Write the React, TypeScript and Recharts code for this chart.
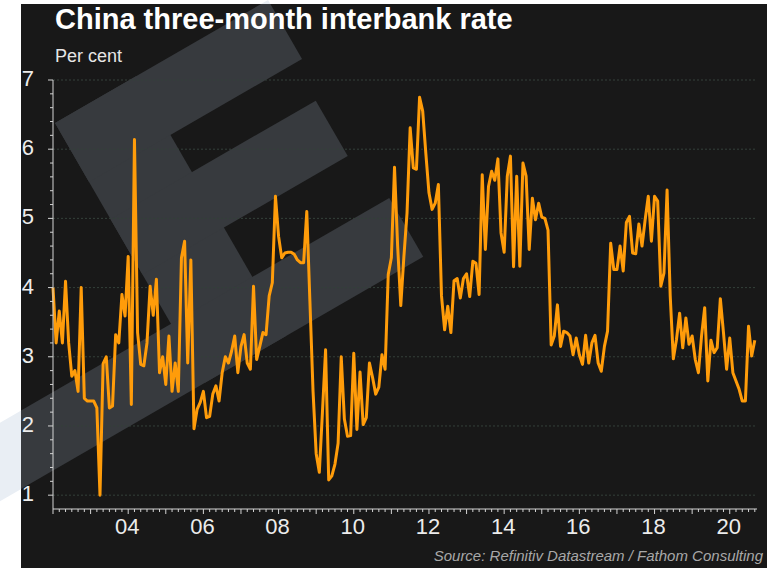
import { LineChart, Line, XAxis, YAxis, ReferenceLine } from 'recharts';

// monthly 3m interbank rate, Jan 2002 .. Sep 2020 (per cent)
const rate2002 = [4.0, 3.2, 3.66, 3.2, 4.09, 3.2, 2.72, 2.8, 2.5, 4.0, 2.4, 2.36];
const rate2003 = [2.36, 2.36, 2.26, 1.0, 2.9, 3.0, 2.26, 2.29, 3.32, 3.2, 3.9, 3.59];
const rate2004 = [4.45, 2.31, 6.14, 3.35, 2.89, 2.87, 3.2, 4.02, 3.6, 4.12, 2.77, 3.0];
const rate2005 = [2.6, 3.3, 2.5, 2.91, 2.5, 4.43, 4.67, 2.91, 4.4, 1.96, 2.24, 2.34];
const rate2006 = [2.5, 2.12, 2.14, 2.46, 2.58, 2.36, 2.77, 3.0, 2.91, 3.08, 3.3, 2.77];
const rate2007 = [3.15, 3.32, 2.91, 2.82, 4.02, 2.96, 3.15, 3.35, 3.32, 3.88, 4.07, 5.32];
const rate2008 = [4.74, 4.43, 4.5, 4.51, 4.51, 4.48, 4.4, 4.36, 4.36, 5.1, 3.8, 2.5];
const rate2009 = [1.6, 1.33, 2.2, 3.1, 1.22, 1.28, 1.45, 1.75, 3.0, 2.1, 1.85, 1.86];
const rate2010 = [3.05, 1.95, 2.78, 2.02, 2.12, 2.91, 2.7, 2.46, 2.56, 3.03, 2.82, 4.19];
const rate2011 = [4.43, 5.74, 4.6, 3.74, 4.45, 5.08, 6.31, 5.73, 5.71, 6.75, 6.55, 5.94];
const rate2012 = [5.37, 5.13, 5.22, 5.49, 3.88, 3.39, 3.73, 3.35, 4.1, 4.13, 3.85, 4.13];
const rate2013 = [4.2, 3.87, 4.38, 4.35, 3.9, 5.63, 4.55, 5.46, 5.68, 5.55, 5.86, 4.79];
const rate2014 = [4.51, 5.61, 5.9, 4.3, 5.61, 4.31, 5.8, 5.61, 4.55, 5.29, 4.98, 5.22];
const rate2015 = [5.02, 5.0, 4.83, 3.17, 3.3, 3.75, 3.15, 3.37, 3.35, 3.3, 3.03, 3.27];
const rate2016 = [3.03, 2.89, 3.31, 2.91, 3.2, 3.31, 2.91, 2.79, 3.15, 3.37, 4.64, 4.26];
const rate2017 = [4.26, 4.6, 4.24, 4.94, 5.03, 4.5, 4.49, 4.92, 4.6, 4.98, 5.32, 4.67];
const rate2018 = [5.32, 5.25, 4.02, 4.21, 5.41, 3.88, 2.97, 3.25, 3.63, 3.13, 3.56, 3.18];
const rate2019 = [3.3, 2.96, 2.77, 3.3, 3.71, 2.65, 3.24, 3.06, 3.13, 3.84, 3.35, 2.82];
const rate2020 = [3.27, 2.77, 2.65, 2.53, 2.36, 2.36, 3.44, 3.01, 3.24];

const yearlyRates = [
  rate2002, rate2003, rate2004, rate2005, rate2006, rate2007, rate2008, rate2009, rate2010,
  rate2011, rate2012, rate2013, rate2014, rate2015, rate2016, rate2017, rate2018, rate2019, rate2020,
];

const startYear = 2002;
const labelYears = [2004, 2006, 2008, 2010, 2012, 2014, 2016, 2018, 2020];
const gridValues = [1, 2, 3, 4, 5, 6, 7];

const data = yearlyRates.flat().map((value, month) => ({ month, value }));

// tick marks every 2 months along x, every 0.2 along y
const xTicks = Array.from({ length: 113 }, (_, i) => i * 2);
const yTicks = Array.from({ length: 31 }, (_, i) => Math.round((1 + i * 0.2) * 10) / 10);

const AXIS = '#d4d4d4';
const FONT = '"Liberation Sans", Arial, sans-serif';

function XTick({ x, y, payload }: any) {
  const m = payload.value;
  const year = startYear + m / 12;
  const isYear = m % 12 === 0;
  const labelled = isYear && labelYears.includes(year);
  return (
    <g>
      <line x1={x} x2={x} y1={y} y2={y + (isYear ? 5 : 3)} stroke={AXIS} strokeWidth={1} />
      {labelled && (
        <text x={x - 1} y={y + 25} textAnchor="middle" fill="#ececec" fontSize={22} fontFamily={FONT}>
          {String(year).slice(2)}
        </text>
      )}
    </g>
  );
}

function YTick({ x, y, payload }: any) {
  const v = payload.value;
  const major = Math.abs(v - Math.round(v)) < 1e-6;
  return (
    <g>
      <line x1={x - (major ? 5 : 3)} x2={x} y1={y} y2={y} stroke={AXIS} strokeWidth={1} />
      {major && (
        <text x={x - 19} y={y + 6} textAnchor="end" fill="#ececec" fontSize={22} fontFamily={FONT}>
          {Math.round(v)}
        </text>
      )}
    </g>
  );
}

// rotated "E" watermark, drawn in its own frame
function Watermark({ fill }: { fill: string }) {
  return (
    <g transform="translate(55,123) rotate(-30)" fill={fill}>
      <rect x={0} y={0} width={94} height={300} />
      <rect x={0} y={0} width={246} height={68} />
      <rect x={0} y={111} width={237} height={64} />
      <rect x={-260} y={232} width={512} height={68} />
    </g>
  );
}

export default function App() {
  return (
    <div style={{ position: 'fixed', left: 0, top: 0, width: 767, height: 568, background: '#fff', overflow: 'hidden' }}>
      <svg width={767} height={568} style={{ position: 'absolute', left: 0, top: 0 }}>
        <defs>
          <clipPath id="panel">
            <rect x={21} y={4} width={746} height={564} />
          </clipPath>
        </defs>
        <Watermark fill="#e9eef4" />
        <rect x={21} y={4} width={746} height={564} fill="#181818" />
        <g clipPath="url(#panel)">
          <Watermark fill="#373a3e" />
        </g>
        <text x={55} y={29} fill="#fff" fontSize={29} fontWeight="bold" fontFamily={FONT}>
          China three-month interbank rate
        </text>
        <text x={55} y={62} fill="#e6e6e6" fontSize={18} fontFamily={FONT}>
          Per cent
        </text>
        <text x={763} y={561} textAnchor="end" fill="#a8a8a8" fontSize={15} fontStyle="italic" fontFamily={FONT}>
          Source: Refinitiv Datastream / Fathom Consulting
        </text>
      </svg>
      <div style={{ position: 'absolute', left: 0, top: 0 }}>
        <LineChart width={767} height={568} data={data} margin={{ top: 80, right: 10, bottom: 0, left: 0 }}>
          <XAxis
            dataKey="month"
            type="number"
            domain={[0, 224.7]}
            ticks={xTicks}
            interval={0}
            height={59}
            tickSize={0}
            tickMargin={0}
            tick={<XTick />}
            axisLine={{ stroke: AXIS, strokeWidth: 1 }}
            tickLine={false}
          />
          <YAxis
            type="number"
            domain={[0.8, 7]}
            ticks={yTicks}
            interval={0}
            width={53}
            tickSize={0}
            tickMargin={0}
            tick={<YTick />}
            axisLine={{ stroke: AXIS, strokeWidth: 1 }}
            tickLine={false}
            allowDataOverflow
          />
          {gridValues.map((v) => (
            <ReferenceLine key={v} y={v} stroke="#34403a" strokeDasharray="2 2" strokeWidth={1} />
          ))}
          <Line
            type="linear"
            dataKey="value"
            stroke="#ff9c0a"
            strokeWidth={3}
            strokeLinejoin="round"
            dot={false}
            isAnimationActive={false}
          />
        </LineChart>
      </div>
    </div>
  );
}
